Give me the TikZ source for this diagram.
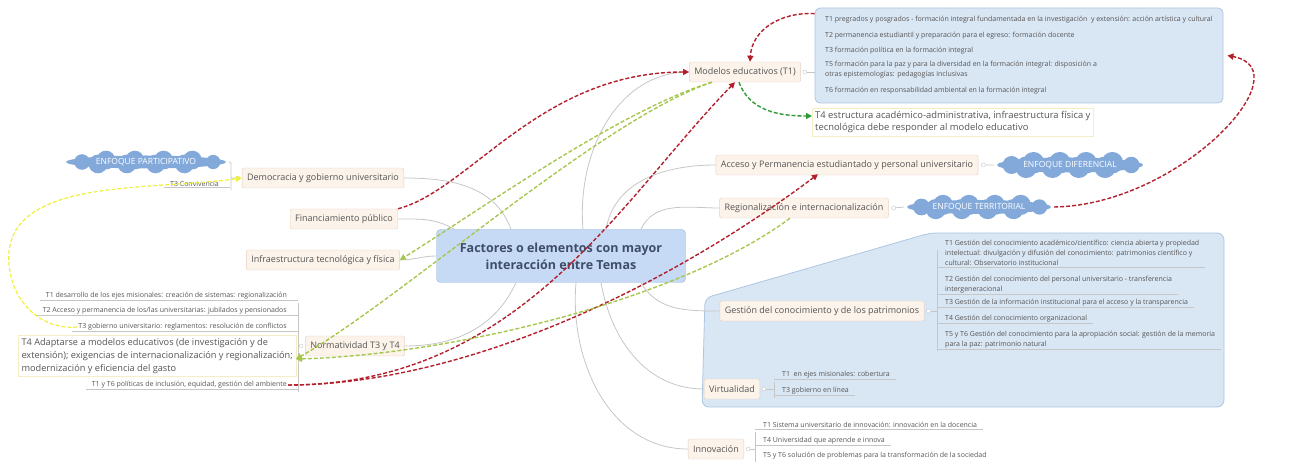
\documentclass[tikz,border=0pt]{standalone}
\usepackage{fontspec}
\setmainfont{Open Sans}
\usetikzlibrary{shapes.geometric,arrows.meta,backgrounds}

\definecolor{topicfill}{HTML}{FCF3EA}
\definecolor{topicdraw}{HTML}{E3D3C4}
\definecolor{centrefill}{HTML}{C7DAF5}
\definecolor{centredraw}{HTML}{93B3DD}
\definecolor{areafill}{HTML}{D9E6F4}
\definecolor{areadraw}{HTML}{AFC6E0}
\definecolor{cloudblue}{HTML}{82A9DA}
\definecolor{branchgray}{HTML}{C6C6C6}
\definecolor{relred}{HTML}{B3202C}
\definecolor{relgreen}{HTML}{A6C74E}
\definecolor{reldkgreen}{HTML}{2F9A34}
\definecolor{relyellow}{HTML}{EEF03C}
\definecolor{notedraw}{HTML}{F4EDC6}
\definecolor{txt}{HTML}{555555}
\definecolor{titletxt}{HTML}{3E4D68}

\begin{document}
\begin{tikzpicture}[x=1pt, y=-1pt,
  centre/.style={draw=centredraw, fill=centrefill, rounded corners=4pt, text=titletxt,
    font=\fontsize{12.5}{17}\selectfont\bfseries, align=center,
    minimum width=249pt, minimum height=53pt},
  topic/.style={draw=topicdraw, fill=topicfill, rounded corners=2pt, text=txt,
    font=\fontsize{9}{10}\selectfont, inner xsep=5pt, minimum height=20pt},
  item/.style={anchor=west, text=txt, font=\fontsize{7}{10}\selectfont,
    inner sep=1pt, align=left},
  itemL/.style={item, anchor=east},
  note/.style={draw=notedraw, fill=white, text=txt, align=left, inner sep=3pt},
  enfoque/.style={ellipse, fill=cloudblue, text=white,
    font=\fontsize{8.5}{9}\selectfont, inner sep=0pt},
  knob/.style={circle, draw=branchgray, fill=white, inner sep=0pt, minimum size=4pt},
  branch/.style={draw=branchgray, line width=0.8pt},
  area/.style={draw=areadraw, fill=areafill, line width=0.8pt},
  rel/.style={dash pattern=on 4pt off 2pt, line width=1.4pt,
    -{Triangle[length=6pt,width=6pt]}}
]
\useasboundingbox (0,0) rectangle (1293,462);

% nodes
\node[centre] (C) at (561,256) {Factores o elementos con mayor\\interacción entre Temas};

\node[topic] (mod) at (745,72) {Modelos educativos (T1)};
\node[topic] (dem) at (323,178) {Democracia y gobierno universitario};
\node[topic] (fin) at (344,219) {Financiamiento público};
\node[topic] (inf) at (323,260) {Infraestructura tecnológica y física};
\node[topic] (nor) at (355,346) {Normatividad T3 y T4};
\node[topic] (acc) at (847,165) {Acceso y Permanencia estudiantado y personal universitario};
\node[topic] (reg) at (804,208) {Regionalización e internacionalización};
\node[topic] (ges) at (822,311) {Gestión del conocimiento y de los patrimonios};
\node[topic] (vir) at (732,389) {Virtualidad};
\node[topic] (inn) at (716,449) {Innovación};

\node[knob] (modk) at ([xshift=4pt]mod.east) {};
\node[knob] (demk) at ([xshift=-4pt]dem.west) {};
\node[knob] (nork) at ([xshift=-4pt]nor.west) {};
\node[knob] (acck) at ([xshift=5pt]acc.east) {};
\node[knob] (regk) at ([xshift=5pt]reg.east) {};
\node[knob] (gesk) at ([xshift=4pt]ges.east) {};
\node[knob] (virk) at ([xshift=4pt]vir.east) {};
\node[knob] (innk) at ([xshift=4pt]inn.east) {};

% Modelos educativos
\node[draw=areadraw, fill=areafill, line width=0.8pt, rounded corners=5pt,
  minimum width=408pt, minimum height=95pt] (modbox) at (1019,55.5) {};
\node[item] (m1) at (824,20) {T1 pregrados y posgrados - formación integral fundamentada en la investigación \ y extensión: acción artística y cultural};
\node[item] (m2) at (824,36) {T2 permanencia estudiantil y preparación para el egreso: formación docente};
\node[item] (m3) at (824,51) {T3 formación política en la formación integral};
\node[item] (m5) at (824,70) {T5 formación para la paz y para la diversidad en la formación integral: disposición a\\otras epistemologías: pedagogías inclusivas};
\node[item] (m6) at (824,91) {T6 formación en responsabilidad ambiental en la formación integral};
\node[note, anchor=west, font=\fontsize{9.4}{12}\selectfont] (m4) at (812,122)
  {T4 estructura académico-administrativa, infraestructura física y\\tecnológica debe responder al modelo educativo};

% Democracia
\node[enfoque, minimum width=160pt, minimum height=13pt] (par) at (146,162) {ENFOQUE PARTICIPATIVO};
\node[itemL] (conv) at (220,184) {T3 Convivencia};

% Normatividad
\node[itemL] (n1) at (288,296) {T1 desarrollo de los ejes misionales: creación de sistemas: regionalización};
\node[itemL] (n2) at (288,311) {T2 Acceso y permanencia de los/las universitarias: jubilados y pensionados};
\node[itemL] (n3) at (288,327) {T3 gobierno universitario: reglamentos: resolución de conflictos};
\node[note, anchor=east, font=\fontsize{9.2}{13}\selectfont] (n4) at (296,356)
  {T4 Adaptarse a modelos educativos (de investigación y de\\extensión); exigencias de internacionalización y regionalización;\\modernización y eficiencia del gasto};
\node[itemL] (n6) at (288,385) {T1 y T6 políticas de inclusión, equidad, gestión del ambiente};

% Acceso, Regionalizacion
\node[enfoque, minimum width=146pt, minimum height=15pt] (dif) at (1070,165) {ENFOQUE DIFERENCIAL};
\node[enfoque, minimum width=144pt, minimum height=14pt] (ter) at (979,207) {ENFOQUE TERRITORIAL};

% Gestion
\node[item] (g1) at (944,253) {T1 Gestión del conocimiento académico/científico: ciencia abierta y propiedad\\intelectual: divulgación y difusión del conocimiento: patrimonios científico y\\cultural: Observatorio institucional};
\node[item] (g2) at (944,285) {T2 Gestión del conocimiento del personal universitario - transferencia\\intergeneracional};
\node[item] (g3) at (944,303) {T3 Gestión de la información institucional para el acceso y la transparencia};
\node[item] (g4) at (944,319) {T4 Gestión del conocimiento organizacional};
\node[item] (g5) at (944,340) {T5 y T6 Gestión del conocimiento para la apropiación social: gestión de la memoria\\para la paz: patrimonio natural};

% Virtualidad, Innovacion
\node[item] (v1) at (781,375) {T1 \ en ejes misionales: cobertura};
\node[item] (v3) at (781,391) {T3 gobierno en línea};
\node[item] (i1) at (762,425) {T1 Sistema universitario de innovación: innovación en la docencia};
\node[item] (i4) at (762,441) {T4 Universidad que aprende e innova};
\node[item] (i5) at (762,456) {T5 y T6 solución de problemas para la transformación de la sociedad};

\begin{pgfonlayer}{background}
\filldraw[area, rounded corners=7pt]
  (930,233) -- (1224,233) -- (1224,407) -- (702,407) -- (705,298) -- cycle;

% cloud puffs
\foreach \c/\w/\h in {par/160/13, dif/146/15, ter/144/14} {
  \foreach \t in {-0.3,-0.12,0.06,0.24}
    \fill[cloudblue] ([shift={(\t*\w,0.15*\h)}]\c.center) circle ({0.72*\h})
                     ([shift={(\t*\w+0.05*\w,-0.15*\h)}]\c.center) circle ({0.72*\h});
  \fill[cloudblue] ([xshift=-0.4*\w]\c.center) circle ({0.6*\h})
                   ([xshift=0.42*\w]\c.center) circle ({0.55*\h});
}

\draw[branch]
  ([xshift=22pt]C.north) to[out=95,in=180] (mod.west)
  (dem.east) to[out=0,in=110] ([xshift=-50pt]C.north)
  (fin.east) to[out=0,in=150] ([xshift=18pt]C.north west)
  (inf.east) to[out=0,in=180] (C.west)
  (nor.east) to[out=0,in=-115] ([xshift=-45pt]C.south)
  (acc.west) to[out=180,in=80] ([xshift=45pt]C.north)
  (reg.west) to[out=180,in=65] ([xshift=80pt]C.north)
  (ges.west) to[out=180,in=-60] ([xshift=80pt]C.south)
  (vir.west) to[out=180,in=-80] ([xshift=40pt]C.south)
  (inn.west) to[out=180,in=-95] ([xshift=15pt]C.south)
  ;

% lists
\foreach \n in {m1,m2,m3,m5,m6,g1,g2,g3,g4,g5,v1,v3,i1,i4}
  \draw[branch] ([xshift=-7pt]\n.south west) -- ([xshift=5pt]\n.south east);
\foreach \n in {conv,n1,n2,n3,n6}
  \draw[branch] ([xshift=-5pt]\n.south west) -- ([xshift=10pt]\n.south east);
\draw[branch] (modk) -- (817,72) (817,27) -- (817,98);
\draw[branch] ([xshift=3pt]par.east) -- (231,163) -- (231,190) (demk) -- (231,178);
\draw[branch] (nork) -- (298,346) (298,303) -- (298,392);
\draw[branch] (acck) -- ([xshift=-3pt]dif.west) (regk) -- ([xshift=-3pt]ter.west);
\draw[branch] (gesk) -- (937,311) (937,250) -- (937,351);
\draw[branch] (virk) -- (774,389) (774,382) -- (774,398);
\draw[branch] (innk) -- (755,449) (755,432) -- (755,462);
\end{pgfonlayer}

% relations
\draw[rel, relred]
  (fin.north east) .. controls (470,190) and (540,72) .. (mod.west);
\draw[rel, relred]
  ([yshift=-6pt]modbox.north west) .. controls (780,12) and (752,30) .. ([xshift=5pt]mod.north);
\draw[rel, relred]
  ([xshift=3pt]ter.east) .. controls (1180,205) and (1305,70) .. ([xshift=4pt]modbox.east);
\draw[rel, relred]
  (n6.east) .. controls (520,385) and (620,200) .. ([xshift=-10pt]mod.south);
\draw[rel, relred]
  (n6.east) .. controls (450,385) and (650,300) .. ([yshift=1pt]acc.south -| 818,0);
\draw[rel, relgreen]
  ([xshift=-33pt]mod.south) .. controls (620,110) and (480,210) .. (inf.east);
\draw[rel, relgreen]
  ([xshift=-33pt]mod.south) .. controls (600,120) and (400,300) .. ([yshift=-3pt]n4.east);
\draw[rel, relgreen]
  ([xshift=-14pt]reg.south) .. controls (680,300) and (450,355) .. ([yshift=-3pt]n4.east);
\draw[rel, reldkgreen]
  ([xshift=-6pt]mod.south) to[out=-70,in=180] ([yshift=6pt]m4.west);
\draw[rel, relyellow, line width=1.2pt]
  (n3.west) to[out=185,in=-80] (10,272) to[out=100,in=188] (dem.west);
\end{tikzpicture}
\end{document}
